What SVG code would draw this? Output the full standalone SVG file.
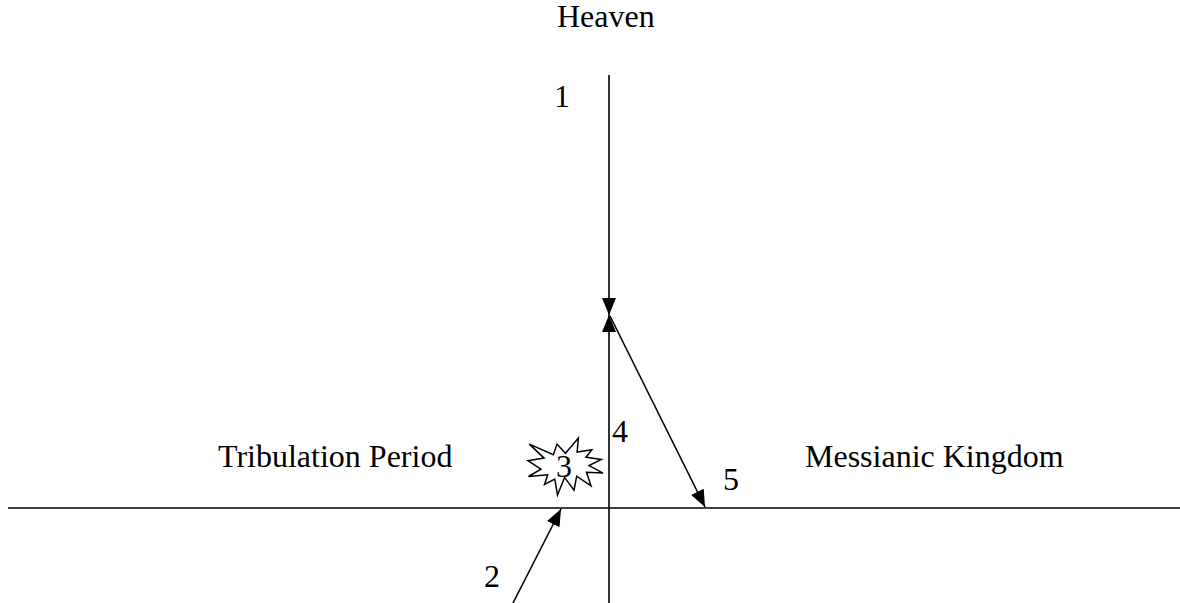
<svg xmlns="http://www.w3.org/2000/svg" width="1180" height="603" viewBox="0 0 1180 603">
  <style>
    .lbl { font-family: "Liberation Serif", "Times New Roman", serif; font-size: 32px; fill: #000; }
    .ln { stroke: #000; stroke-width: 1.6; fill: none; }
    .arr { marker-end: url(#ah); }
  </style>
  <defs>
    <marker id="ah" viewBox="0 0 17 14" refX="17" refY="7" markerWidth="17" markerHeight="14" markerUnits="userSpaceOnUse" orient="auto">
      <path d="M0,0 L17,7 L0,14 z" fill="#000"/>
    </marker>
  </defs>
  <rect width="1180" height="603" fill="#fff"/>

  <g id="connectors">
    <line class="ln" x1="8" y1="508" x2="1180" y2="508"/>
    <line class="ln arr" x1="609" y1="75" x2="609" y2="315"/>
    <line class="ln arr" x1="609" y1="603" x2="609" y2="315"/>
    <line class="ln arr" x1="610" y1="316" x2="705" y2="507"/>
    <line class="ln arr" x1="513" y1="603" x2="561" y2="509"/>
  </g>

  <g id="heaven"><text class="lbl" x="557" y="27">Heaven</text></g>
  <g id="tribulation"><text class="lbl" x="218" y="467">Tribulation Period</text></g>
  <g id="kingdom"><text class="lbl" x="805" y="467">Messianic Kingdom</text></g>
  <g id="label1"><text class="lbl" x="554" y="107">1</text></g>
  <g id="label2"><text class="lbl" x="484" y="587">2</text></g>
  <g id="explosion3">
    <polygon points="565.5,453.3 578.4,438 577.1,452.1 591.8,449.8 586,457.3 601.3,459.5 589.1,465.6 603,473.1 586.5,472.2 591,485.8 576.7,476.2 574,490.1 564.6,477.4 557.5,495 554.8,479.2 544.5,484.5 547.7,474.8 528.5,476.5 540.9,469.1 528,460.7 544.1,458.1 529.3,444.1 553.4,454.7 557,444.1" fill="#fff" stroke="#000" stroke-width="1.5" stroke-linejoin="miter"/>
    <text class="lbl" x="564" y="477" text-anchor="middle">3</text>
  </g>
  <g id="label4"><text class="lbl" x="612" y="442">4</text></g>
  <g id="label5"><text class="lbl" x="723" y="490">5</text></g>
</svg>
